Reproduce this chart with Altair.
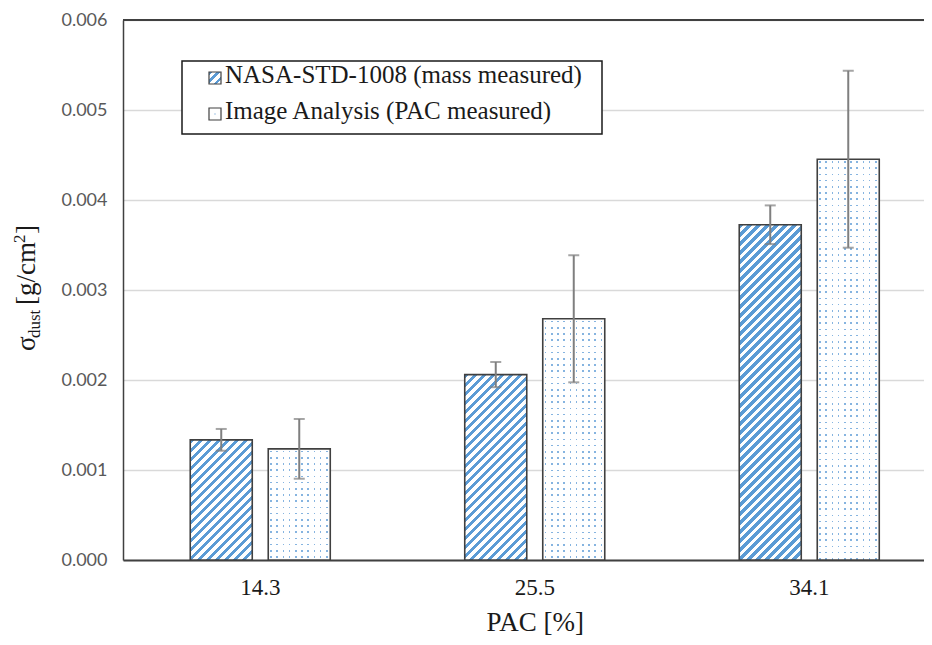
import altair as alt
import pandas as pd
import math

# ---------------- data ----------------
categories = ["14.3", "25.5", "34.1"]
series_names = ["NASA-STD-1008 (mass measured)", "Image Analysis (PAC measured)"]
nasa_values = [0.001335, 0.002060, 0.003725]
nasa_errors = [0.000121, 0.000140, 0.000215]
ia_values = [0.001235, 0.002680, 0.004453]
ia_errors = [0.000332, 0.000706, 0.000983]
y_ticks = [0.000, 0.001, 0.002, 0.003, 0.004, 0.005, 0.006]

rows = []
for c, v, e in zip(categories, nasa_values, nasa_errors):
    rows.append({"cat": c, "series": series_names[0], "value": v, "lo": v - e, "hi": v + e})
for c, v, e in zip(categories, ia_values, ia_errors):
    rows.append({"cat": c, "series": series_names[1], "value": v, "lo": v - e, "hi": v + e})
df = pd.DataFrame(rows)
one = pd.DataFrame({"k": [0]})

# ---------------- layout constants ----------------
PLOT_W, PLOT_H = 801, 540
Y_MAX = 0.006
X_RANGE = 823.5
PI, PO = 0.205, 0.862
step_x = X_RANGE / len(categories)
step_o = step_x / (2 - PI + 2 * PO)
BAR_W = step_o * (1 - PI)

BLUE = "#5b9bd5"
DOT = "#86b4e0"
EDGE = "#404040"
SERIF = "Liberation Serif"


def stripe_gradient(W, H, period=9.0, frac=0.45, c1=BLUE, c2="#ffffff"):
    S = W + H
    D = W * W + H * H
    step = period / S
    stops = []
    o = 0.0
    while o < 1.0:
        b = min(o + frac * step, 1.0)
        c = min(o + step, 1.0)
        stops += [(o, c1), (b, c1), (b, c2), (c, c2)]
        o += step
    return {"gradient": "linear", "x1": 0, "y1": 0, "x2": W * S / D, "y2": H * S / D,
            "stops": [{"offset": round(a, 5), "color": col} for a, col in stops]}


def band_gradient(L, horizontal, period=6.2, width=1.6, start=2.0, c_on=DOT, c_off="#ffffff"):
    stops = [(0.0, c_off)]
    p = start
    while p < L:
        a = p / L
        b = min((p + width) / L, 1.0)
        stops += [(a, c_off), (a, c_on), (b, c_on), (b, c_off)]
        p += period
    stops.append((1.0, c_off))
    return {"gradient": "linear", "x1": 0, "y1": 0,
            "x2": 1 if horizontal else 0, "y2": 0 if horizontal else 1,
            "stops": [{"offset": round(a, 5), "color": col} for a, col in stops]}


X = alt.X("cat:N", sort=categories, title="PAC [%]",
          scale=alt.Scale(range=[0, X_RANGE], paddingInner=0, paddingOuter=0),
          axis=alt.Axis(labelAngle=0, ticks=False, grid=False, domainColor=EDGE, domainWidth=2,
                        labelFont=SERIF, labelFontSize=23, labelColor="#1a1a1a", labelPadding=16,
                        titleFont=SERIF, titleFontSize=27, titleFontWeight="normal",
                        titleColor="#1a1a1a", titlePadding=10))
XO = alt.XOffset("series:N", sort=series_names,
                 scale=alt.Scale(paddingInner=PI, paddingOuter=PO))
Y_AXIS = alt.Axis(values=y_ticks, format=".3f", ticks=False, grid=True, gridColor="#d9d9d9",
                  gridWidth=1.5, domainColor=EDGE, domainWidth=1.5, labelFont="Lato",
                  labelFontSize=18, labelColor="#595959", labelPadding=16)
Y_SCALE = alt.Scale(domain=[0, Y_MAX], nice=False)


def Yf(field):
    return alt.Y(f"{field}:Q", title=None, scale=Y_SCALE, axis=Y_AXIS)


base = alt.Chart(df)
layers = []

# striped NASA bars (one layer per bar: gradient depends on bar size)
for c, v in zip(categories, nasa_values):
    H = v / Y_MAX * PLOT_H
    layers.append(
        base.transform_filter((alt.datum.series == series_names[0]) & (alt.datum.cat == c))
        .mark_bar(fill=stripe_gradient(BAR_W, H), strokeWidth=0)
        .encode(x=X, xOffset=XO, y=Yf("value"))
    )

# dotted Image Analysis bars: columns of dots ...
layers.append(
    base.transform_filter(alt.datum.series == series_names[1])
    .mark_bar(fill=band_gradient(BAR_W, True), strokeWidth=0)
    .encode(x=X, xOffset=XO, y=Yf("value"))
)
# ... masked by white horizontal bands so only dots remain
for c, v in zip(categories, ia_values):
    H = v / Y_MAX * PLOT_H
    layers.append(
        base.transform_filter((alt.datum.series == series_names[1]) & (alt.datum.cat == c))
        .mark_bar(fill=band_gradient(H, False, c_on="rgba(255,255,255,0)", c_off="#ffffff"),
                  strokeWidth=0)
        .encode(x=X, xOffset=XO, y=Yf("value"))
    )

# outlines
layers.append(
    base.mark_bar(fillOpacity=0, stroke=EDGE, strokeWidth=1.6)
    .encode(x=X, xOffset=XO, y=Yf("value"))
)

# error bars
ERR = "#7f7f7f"
layers.append(base.mark_rule(color=ERR, strokeWidth=2)
              .encode(x=X, xOffset=XO, y=Yf("lo"), y2="hi:Q"))
layers.append(base.mark_tick(color=ERR, size=11, thickness=2, orient="horizontal")
              .encode(x=X, xOffset=XO, y=Yf("lo")))
layers.append(base.mark_tick(color=ERR, size=11, thickness=2, orient="horizontal")
              .encode(x=X, xOffset=XO, y=Yf("hi")))

# top frame line
layers.append(alt.Chart(one).mark_rule(color=EDGE, strokeWidth=2)
              .encode(y=alt.datum(Y_MAX, scale=Y_SCALE)))

# ---------------- legend ----------------
ann = alt.Chart(one)
layers.append(ann.mark_rect(fill="white", stroke="#1a1a1a", strokeWidth=1.5)
              .encode(x=alt.value(59), x2=alt.value(479), y=alt.value(41), y2=alt.value(114)))
layers.append(ann.mark_rect(fill=stripe_gradient(12, 12, period=8.0), stroke=EDGE, strokeWidth=1.2)
              .encode(x=alt.value(86), x2=alt.value(98), y=alt.value(52), y2=alt.value(64)))
layers.append(ann.mark_rect(fill="white", stroke=EDGE, strokeWidth=1.2)
              .encode(x=alt.value(86), x2=alt.value(98), y=alt.value(88), y2=alt.value(100)))
layers.append(ann.mark_point(shape="square", size=2, filled=True, color=DOT)
              .encode(x=alt.value(92), y=alt.value(94)))
for txt, yy in zip(series_names, [63, 98.5]):
    layers.append(ann.mark_text(text=txt, font=SERIF, fontSize=25, color="#1a1a1a",
                                align="left", baseline="alphabetic")
                  .encode(x=alt.value(102), y=alt.value(yy)))

# ---------------- y axis title: sigma_dust [g/cm^2] ----------------
title_parts = [("σ", 27, -88, 331), ("dust", 17, -83, 318), ("[g/cm", 27, -88, 285),
               ("2", 17, -98, 223), ("]", 27, -88, 214)]
for txt, fs, xx, yy in title_parts:
    layers.append(ann.mark_text(text=txt, font=SERIF, fontSize=fs, color="#1a1a1a", angle=270,
                                align="left", baseline="alphabetic")
                  .encode(x=alt.value(xx), y=alt.value(yy)))

chart = (
    alt.layer(*layers)
    .properties(width=PLOT_W, height=PLOT_H,
                padding={"left": 115, "top": 12, "right": 0, "bottom": 77},
                autosize=alt.AutoSizeParams(type="none"), background="white")
    .configure_view(stroke=None)
)

chart.save("out.html", embed_options={"renderer": "svg", "actions": False})
